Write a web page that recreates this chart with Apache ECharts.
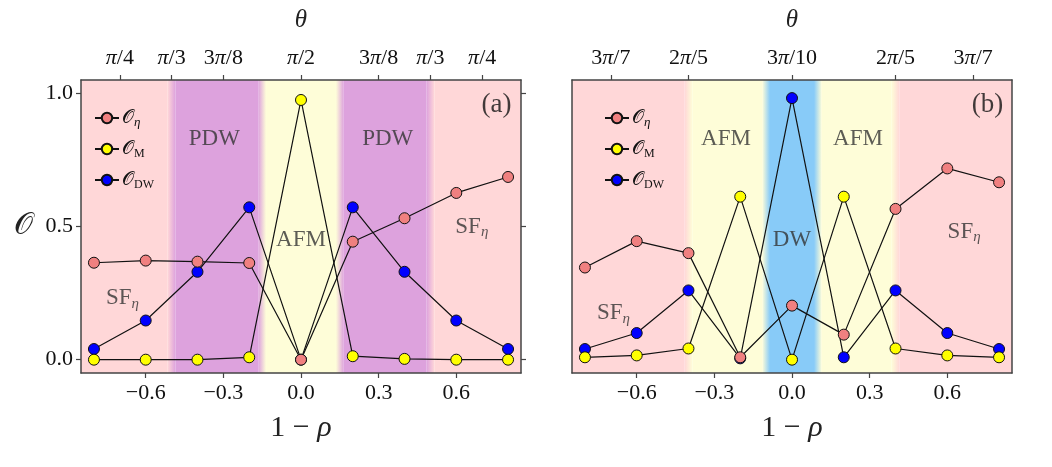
<!DOCTYPE html>
<html>
<head>
<meta charset="utf-8">
<script src="https://cdn.jsdelivr.net/npm/echarts@6/dist/echarts.min.js"></script>
<style>
  html, body { margin: 0; padding: 0; background: #fff; }
  #container { width: 1052px; height: 467px; }
</style>
</head>
<body>
<div id="container"></div>
<script>
var dom = document.getElementById("container");
var myChart = echarts.init(dom);

// x values (1 - rho), shared by both panels
var rhoX = [-0.8, -0.6, -0.4, -0.2, 0, 0.2, 0.4, 0.6, 0.8];

// panel (a)
var etaA = [0.364, 0.372, 0.368, 0.363, 0.0, 0.443, 0.531, 0.626, 0.686];
var magA = [0.0, 0.0, 0.0, 0.009, 0.975, 0.013, 0.003, 0.0, 0.0];
var dwA  = [0.040, 0.147, 0.330, 0.572, 0.0, 0.572, 0.330, 0.147, 0.040];
var edgesA  = [-0.85, -0.5, -0.15, 0.15, 0.5, 0.85];
var phasesA = ['SF', 'PDW', 'AFM', 'PDW', 'SF'];
var thetaTicksA  = [-0.7, -0.5, -0.3, 0, 0.3, 0.5, 0.7];
var thetaLabelsA = ['π/4', 'π/3', '3π/8', 'π/2', '3π/8', 'π/3', 'π/4'];
var textsA = [['PDW', -0.335, 0.83], ['PDW', 0.335, 0.83], ['AFM', 0, 0.45],
              ['SF_η', 0.66, 0.5], ['SF_η', -0.69, 0.23], ['(a)', 0.755, 0.955]];

// panel (b)
var etaB = [0.346, 0.445, 0.400, 0.009, 0.203, 0.094, 0.566, 0.718, 0.666];
var magB = [0.009, 0.016, 0.042, 0.612, 0.0, 0.612, 0.042, 0.016, 0.009];
var dwB  = [0.040, 0.100, 0.260, 0.005, 0.982, 0.009, 0.260, 0.100, 0.040];
var edgesB  = [-0.85, -0.4, -0.1, 0.1, 0.4, 0.85];
var phasesB = ['SF', 'AFM', 'DW', 'AFM', 'SF'];
var thetaTicksB  = [-0.7, -0.4, 0, 0.4, 0.7];
var thetaLabelsB = ['3π/7', '2π/5', '3π/10', '2π/5', '3π/7'];
var textsB = [['AFM', -0.255, 0.83], ['AFM', 0.255, 0.83], ['DW', 0, 0.45],
              ['SF_η', 0.665, 0.48], ['SF_η', -0.69, 0.175], ['(b)', 0.755, 0.955]];

var xTicks = [-0.6, -0.3, 0, 0.3, 0.6];
var yTicks = [0, 0.5, 1];

// styles
var FONT = 'Liberation Serif';
var phaseColor = { SF: '#ffd7d8', PDW: '#dda2dd', AFM: '#fefdd8', DW: '#88cbf8' };
var seriesColor = { eta: '#f08080', M: '#ffff00', DW: '#0000ff' };
var legendText = { eta: '𝒪{s|η}', M: '𝒪{m|M}', DW: '𝒪{m|DW}' };
var FADE = 0.015;

function bandAreas(edges, phases) {
    var out = [];
    var n = phases.length;
    for (var i = 0; i < n; i++) {
        var a = edges[i] + (i > 0 ? FADE : 0);
        var b = edges[i + 1] - (i < n - 1 ? FADE : 0);
        out.push([{ xAxis: a, itemStyle: { color: phaseColor[phases[i]] } }, { xAxis: b }]);
        if (i < n - 1) {
            out.push([{
                xAxis: edges[i + 1] - FADE,
                itemStyle: {
                    color: new echarts.graphic.LinearGradient(0, 0, 1, 0, [
                        { offset: 0, color: phaseColor[phases[i]] },
                        { offset: 1, color: phaseColor[phases[i + 1]] }
                    ])
                }
            }, { xAxis: edges[i + 1] + FADE }]);
        }
    }
    return out;
}

function pairs(ys) {
    return rhoX.map(function (x, i) { return [x, ys[i]]; });
}

function fmtNum(v) {
    return (v < 0 ? '−' : '') + Math.abs(v).toFixed(1);
}

function italicPi(s) {
    return s.replace('π', '{i|π}');
}

var grids = [], xAxes = [], yAxes = [], series = [], legends = [];

function addPanel(k, left, d) {
    grids.push({ left: left, top: 80, width: 440, height: 293 });
    var common = {
        gridIndex: k, type: 'value', min: -0.85, max: 0.85, z: 10,
        splitLine: { show: false },
        axisLine: { show: true, onZero: false, lineStyle: { color: '#444', width: 1.5 } },
        axisTick: { show: true, inside: false, length: 5, customValues: xTicks, lineStyle: { color: '#444', width: 1.2 } }
    };
    xAxes.push(echarts.util.merge({
        position: 'bottom',
        name: '{n|1 − }{i|ρ}', nameLocation: 'middle', nameGap: 40,
        nameTextStyle: { rich: {
            n: { fontFamily: FONT, fontSize: 30, color: '#222' },
            i: { fontFamily: FONT, fontSize: 30, fontStyle: 'italic', color: '#222' }
        } },
        axisLabel: { customValues: xTicks, margin: 9, fontFamily: FONT, fontSize: 22, color: '#111', formatter: fmtNum }
    }, common, true));
    var tt = d.thetaTicks, tl = d.thetaLabels;
    xAxes.push(echarts.util.merge({
        position: 'top',
        name: 'θ', nameLocation: 'middle', nameGap: 47,
        nameTextStyle: { fontFamily: FONT, fontSize: 25, fontStyle: 'italic', color: '#222' },
        axisTick: { customValues: tt },
        axisLabel: {
            customValues: tt, margin: 11, fontFamily: FONT, fontSize: 22, color: '#111',
            formatter: function (v) {
                for (var i = 0; i < tt.length; i++) if (Math.abs(tt[i] - v) < 1e-6) return italicPi(tl[i]);
                return '';
            },
            rich: { i: { fontFamily: FONT, fontSize: 22, fontStyle: 'italic', color: '#111' } }
        }
    }, common, false));
    var yCommon = {
        gridIndex: k, type: 'value', min: -0.05, max: 1.05, z: 10,
        splitLine: { show: false },
        axisLine: { show: true, onZero: false, lineStyle: { color: '#444', width: 1.5 } },
        axisTick: { show: d.yLabels, inside: false, length: 5, customValues: yTicks, lineStyle: { color: '#444', width: 1.2 } },
        axisLabel: { show: false, customValues: yTicks }
    };
    yAxes.push(echarts.util.merge({
        position: 'left',
        name: d.yLabels ? '𝒪' : '', nameLocation: 'middle', nameGap: 48, nameRotate: 0,
        nameTextStyle: { fontFamily: FONT, fontSize: 30, color: '#222' },
        axisLabel: { show: d.yLabels, margin: 8, fontFamily: FONT, fontSize: 22, color: '#111',
                     formatter: function (v) { return v.toFixed(1); } }
    }, yCommon, false));
    yAxes.push(echarts.util.merge({ position: 'right' }, yCommon, false));

    var lineBase = {
        type: 'line', xAxisIndex: 2 * k, yAxisIndex: 2 * k,
        symbol: 'circle', symbolSize: 11,
        lineStyle: { color: '#111', width: 1.2 },
        emphasis: { disabled: true }
    };
    series.push(echarts.util.merge({
        name: 'DW', data: pairs(d.dw),
        itemStyle: { color: seriesColor.DW, borderColor: '#111', borderWidth: 1 },
        markArea: { silent: true, z: 0, data: bandAreas(d.edges, d.phases) }
    }, lineBase, false));
    series.push(echarts.util.merge({
        name: 'M', data: pairs(d.mag),
        itemStyle: { color: seriesColor.M, borderColor: '#111', borderWidth: 1 }
    }, lineBase, false));
    series.push(echarts.util.merge({
        name: 'eta', data: pairs(d.eta),
        itemStyle: { color: seriesColor.eta, borderColor: '#111', borderWidth: 1 }
    }, lineBase, false));
    series.push({
        type: 'scatter', xAxisIndex: 2 * k, yAxisIndex: 2 * k, symbolSize: 0, silent: true,
        data: d.texts.map(function (t) { return [t[1], t[2], t[0]]; }),
        label: {
            show: true, position: 'inside',
            formatter: function (p) {
                var s = p.value[2];
                if (s.charAt(0) === '(') return '{p|' + s + '}';
                return s.replace('_η', '{s|η}');
            },
            fontFamily: FONT, fontSize: 23, color: '#333', lineHeight: 26,
            rich: {
                s: { fontFamily: FONT, fontSize: 15, fontStyle: 'italic', color: '#333', verticalAlign: 'bottom', lineHeight: 16 },
                p: { fontFamily: FONT, fontSize: 27, color: '#111', lineHeight: 28 }
            }
        }
    });
    legends.push({
        data: ['eta', 'M', 'DW'], orient: 'vertical',
        left: d.legendLeft, top: 102, itemWidth: 24, itemHeight: 13, itemGap: 9,
        selectedMode: false,
        formatter: function (name) { return legendText[name]; },
        textStyle: {
            fontFamily: FONT, fontSize: 19, color: '#111', lineHeight: 22, padding: [0, 0, 0, -2],
            rich: {
                s: { fontFamily: FONT, fontSize: 13, fontStyle: 'italic', color: '#111', verticalAlign: 'bottom', lineHeight: 13 },
                m: { fontFamily: FONT, fontSize: 12, color: '#111', verticalAlign: 'bottom', lineHeight: 13 }
            }
        }
    });
}

addPanel(0, 81, { eta: etaA, mag: magA, dw: dwA, edges: edgesA, phases: phasesA,
                  thetaTicks: thetaTicksA, thetaLabels: thetaLabelsA, texts: textsA,
                  yLabels: true, legendLeft: 89 });
addPanel(1, 572, { eta: etaB, mag: magB, dw: dwB, edges: edgesB, phases: phasesB,
                   thetaTicks: thetaTicksB, thetaLabels: thetaLabelsB, texts: textsB,
                   yLabels: false, legendLeft: 599 });

option = {
    animation: false,
    backgroundColor: '#fff',
    grid: grids,
    xAxis: xAxes,
    yAxis: yAxes,
    legend: legends,
    series: series
};

if (option && typeof option === "object") {
    myChart.setOption(option, false);
}
</script>
</body>
</html>
